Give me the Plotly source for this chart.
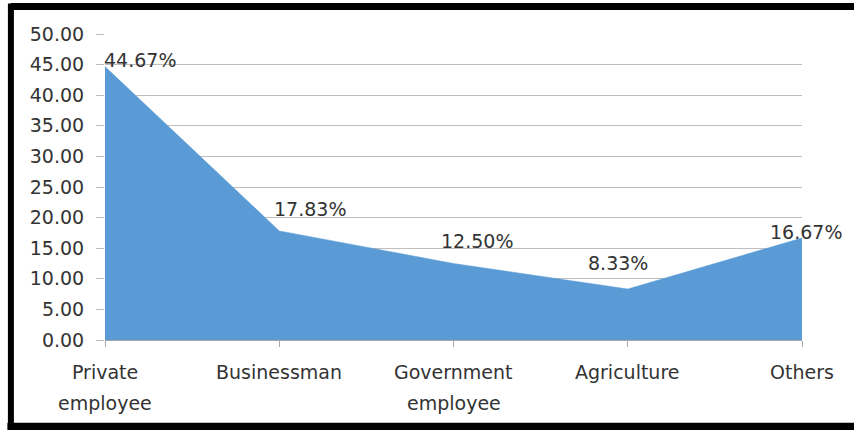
import plotly.graph_objects as go

categories = ["Private employee", "Businessman", "Government employee", "Agriculture", "Others"]
tick_lines = [["Private", "employee"], ["Businessman"], ["Government", "employee"], ["Agriculture"], ["Others"]]
values = [44.67, 17.83, 12.50, 8.33, 16.67]
labels = ["44.67%", "17.83%", "12.50%", "8.33%", "16.67%"]
y_ticks = [0, 5, 10, 15, 20, 25, 30, 35, 40, 45, 50]

# label offsets (px)
xshifts = [35, 31, 23, -10, 4]
yshifts = [7, 22, 23, 26, 6]

FONT = "DejaVu Sans"
TXT = "#333333"
font = dict(family=FONT, size=19, color=TXT)

fig = go.Figure()
fig.add_trace(go.Scatter(
    x=categories, y=values, mode="lines", fill="tozeroy",
    fillcolor="#5B9BD5", line=dict(color="#5B9BD5", width=0.5),
    hoverinfo="skip", showlegend=False,
))

for c, v, t, xs, ys in zip(categories, values, labels, xshifts, yshifts):
    fig.add_annotation(x=c, y=v, text=t, showarrow=False, xshift=xs, yshift=ys, font=font)

# category labels (two-line labels with wide line spacing as in the reference)
for c, lines in zip(categories, tick_lines):
    for i, ln in enumerate(lines):
        fig.add_annotation(x=c, xref="x", y=0, yref="paper", text=ln, showarrow=False,
                           yanchor="middle", yshift=-32 - 31 * i, font=font)

fig.update_layout(
    width=854, height=430,
    margin=dict(l=105, r=52, t=34, b=90),
    paper_bgcolor="white", plot_bgcolor="white",
    font=font,
    xaxis=dict(type="category", range=[0, 4], showgrid=False, showline=True,
               linecolor="#A6A6A6", linewidth=1, showticklabels=False,
               ticks="outside", ticklen=6, tickcolor="#A6A6A6",
               fixedrange=True, zeroline=False, automargin=False),
    yaxis=dict(range=[0, 50], tickvals=y_ticks, ticktext=[f"{t:.2f}" for t in y_ticks],
               showgrid=True, gridcolor="#BFBFBF", gridwidth=1, showline=False,
               ticks="outside", ticklen=8, tickcolor="#BFBFBF", tickfont=font,
               ticklabelstandoff=8,
               zeroline=False, fixedrange=True, automargin=False),
)

# black frame around the chart
fig.add_shape(type="line", xref="paper", yref="paper", x0=-0.135, x1=1.1, y0=1.0899, y1=1.0899,
              line=dict(color="black", width=7))
fig.add_shape(type="line", xref="paper", yref="paper", x0=-0.135, x1=-0.135, y0=1.1, y1=-0.3,
              line=dict(color="black", width=6))
fig.add_shape(type="line", xref="paper", yref="paper", x0=-0.14, x1=1.1, y0=-0.29, y1=-0.29,
              line=dict(color="black", width=12))

fig.write_html("out.html", config={"displayModeBar": False},
               post_script="document.body.style.margin='0';")
